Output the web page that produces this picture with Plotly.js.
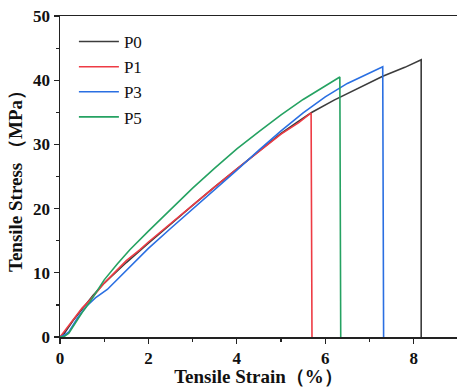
<!DOCTYPE html>
<html>
<head>
<meta charset="utf-8">
<script src="https://cdn.plot.ly/plotly-3.0.1.min.js"></script>
<style>html,body{margin:0;padding:0;background:#fff;}#chart{width:457px;height:387px;}</style>
</head>
<body>
<div id="chart"></div>
<script>
var seriesNames = ["P0", "P1", "P3", "P5"];
var seriesColors = ["#3c3c3c", "#ee3b44", "#2a6fe2", "#25a262"];

var p0Strain = [0, 0.1, 0.3, 0.5, 0.75, 1, 1.5, 2, 2.5, 3, 3.5, 4, 4.5, 5, 5.35, 5.7, 6.2, 6.8, 7.3, 7.8, 8.17, 8.17];
var p0Stress = [0, 0.6, 2.6, 4.4, 6.5, 8.4, 11.6, 14.6, 17.6, 20.5, 23.4, 26.2, 29.0, 31.7, 33.4, 35.0, 36.9, 38.9, 40.6, 42.0, 43.2, 0];

var p1Strain = [0, 0.1, 0.3, 0.5, 0.7, 1, 1.5, 1.81, 2, 2.5, 3, 3.5, 4, 4.5, 5, 5.4, 5.68, 5.7];
var p1Stress = [0, 0.9, 2.8, 4.5, 5.9, 8.4, 11.9, 13.6, 14.8, 17.7, 20.6, 23.4, 26.2, 28.9, 31.6, 33.4, 34.9, 0];

var p3Strain = [0, 0.1, 0.2, 0.4, 0.6, 0.8, 1.07, 1.5, 2, 2.5, 3, 3.5, 4, 4.5, 5, 5.5, 6, 6.5, 7, 7.3, 7.32];
var p3Stress = [0, 0.3, 0.8, 3.0, 4.8, 6.1, 7.4, 10.4, 13.8, 16.9, 19.9, 22.9, 26.0, 29.1, 32.1, 34.9, 37.4, 39.5, 41.1, 42.1, 0];

var p5Strain = [0, 0.1, 0.2, 0.35, 0.5, 0.68, 1, 1.3, 1.58, 2, 2.5, 3, 3.5, 4, 4.5, 5, 5.5, 6, 6.33, 6.35];
var p5Stress = [0, 0.1, 0.6, 2.2, 3.8, 5.5, 8.9, 11.4, 13.6, 16.5, 19.9, 23.2, 26.3, 29.3, 32.0, 34.6, 37.0, 39.1, 40.5, 0];

var xs = [p0Strain, p1Strain, p3Strain, p5Strain];
var ys = [p0Stress, p1Stress, p3Stress, p5Stress];

var traces = seriesNames.map(function (n, i) {
  return {
    x: xs[i], y: ys[i], name: n, type: "scatter", mode: "lines",
    line: {color: seriesColors[i], width: 1.6}
  };
});

var serif = "Liberation Serif, Times New Roman, serif";
var layout = {
  width: 457, height: 387,
  margin: {l: 60, r: 0, t: 16, b: 50},
  paper_bgcolor: "#fff", plot_bgcolor: "#fff",
  showlegend: true,
  legend: {
    x: 0.035, y: 0.975, xanchor: "left", yanchor: "top",
    font: {family: serif, size: 17, color: "#111"},
    bgcolor: "rgba(0,0,0,0)", tracegroupgap: 0, itemwidth: 40
  },
  xaxis: {
    range: [0, 8.98], showgrid: false, zeroline: false,
    showline: true, linecolor: "#222", linewidth: 1.5, mirror: true,
    ticks: "outside", ticklen: 5, tickwidth: 1.2, tickcolor: "#222",
    tickvals: [0, 2, 4, 6, 8], ticktext: ["0", "2", "4", "6", "8"],
    minor: {tickvals: [1, 3, 5, 7], ticks: "outside", ticklen: 3, tickcolor: "#222"},
    tickfont: {family: serif, size: 17, color: "#111", weight: "bold"},
    title: {text: "Tensile Strain（%）", standoff: 4,
      font: {family: serif, size: 19, color: "#111", weight: "bold"}}
  },
  yaxis: {
    range: [0, 50], showgrid: false, zeroline: false,
    showline: true, linecolor: "#222", linewidth: 1.5, mirror: true,
    ticks: "outside", ticklen: 5, tickwidth: 1.2, tickcolor: "#222",
    tickvals: [0, 10, 20, 30, 40, 50],
    minor: {tickvals: [5, 15, 25, 35, 45], ticks: "outside", ticklen: 3, tickcolor: "#222"},
    tickfont: {family: serif, size: 17, color: "#111", weight: "bold"},
    title: {text: "Tensile Stress （MPa）", standoff: 5,
      font: {family: serif, size: 19, color: "#111", weight: "bold"}}
  }
};

Plotly.newPlot("chart", traces, layout, {displayModeBar: false, staticPlot: true});
</script>
</body>
</html>
